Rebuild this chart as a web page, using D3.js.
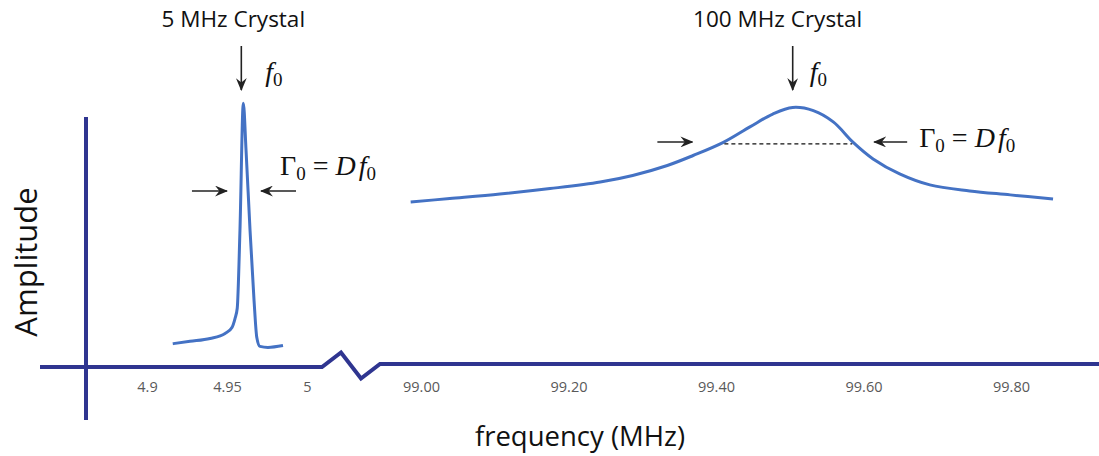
<!DOCTYPE html>
<html>
<head>
<meta charset="utf-8">
<script src="https://cdn.jsdelivr.net/npm/d3@7"></script>
<style>
  body { margin: 0; background: #fff; }
  svg { display: block; }
</style>
</head>
<body>
<div id="chart"></div>
<script>
// values (amplitude in arbitrary units, 0 = axis)
var leftFreq = [4.9161, 4.9269, 4.9394, 4.9488, 4.9531, 4.9550, 4.9564, 4.9581, 4.9602, 4.9619, 4.9644, 4.9669, 4.9686, 4.9706, 4.9756, 4.9850];
var leftAmp  = [0.083, 0.092, 0.103, 0.122, 0.145, 0.179, 0.218, 0.515, 0.999, 0.82, 0.515, 0.248, 0.108, 0.073, 0.069, 0.076];

var rightFreq = [98.986, 99.039, 99.107, 99.175, 99.243, 99.287, 99.334, 99.369, 99.410, 99.446, 99.477, 99.504, 99.532, 99.559, 99.586, 99.613, 99.649, 99.690, 99.744, 99.799, 99.857];
var rightAmp  = [0.623, 0.636, 0.653, 0.674, 0.699, 0.724, 0.762, 0.800, 0.850, 0.909, 0.958, 0.983, 0.971, 0.928, 0.850, 0.787, 0.730, 0.688, 0.665, 0.650, 0.634];

var leftTicks = [4.9, 4.95, 5];
var rightTicks = [99.00, 99.20, 99.40, 99.60, 99.80];

var titles = ["5 MHz Crystal", "100 MHz Crystal"];
var f0Left = 4.9602, f0Right = 99.504;
var widthLeft = [4.9581, 4.9644];     // half-max points, 5 MHz
var widthRight = [99.410, 99.586];    // half-max points, 100 MHz
var halfAmpRight = 0.844;

var W = 1099, H = 456;
var axisColor = "#2f3590", lineColor = "#4472c4";

var svg = d3.select("#chart").append("svg")
  .attr("width", W)
  .attr("height", H);

var xLeft = d3.scaleLinear().domain([4.9, 5]).range([147, 307]);
var xRight = d3.scaleLinear().domain([99, 99.8]).range([421, 1011]);
var y = d3.scaleLinear().domain([0, 1]).range([365.5, 103]);

var defs = svg.append("defs");
defs.append("marker")
  .attr("id", "head")
  .attr("viewBox", "0 0 12 10")
  .attr("refX", 11).attr("refY", 5)
  .attr("markerWidth", 13).attr("markerHeight", 11)
  .attr("markerUnits", "userSpaceOnUse")
  .attr("orient", "auto")
  .append("path")
  .attr("d", "M0,0 L12,5 L0,10 L4,5 Z")
  .attr("fill", "#222");

// axes lines with break
var base = y(0);
var yAxisX = xLeft.range()[0] - 61;
svg.append("line")
  .attr("x1", yAxisX).attr("x2", yAxisX)
  .attr("y1", 117).attr("y2", 420)
  .attr("stroke", axisColor).attr("stroke-width", 4);

var bx = xLeft.range()[1] + 15;
var breakPath = d3.path();
breakPath.moveTo(40, base + 1.5);
breakPath.lineTo(bx, base + 1.5);
breakPath.lineTo(bx + 19, base - 13);
breakPath.lineTo(bx + 39, base + 13);
breakPath.lineTo(bx + 58, base - 1.5);
breakPath.lineTo(W, base - 1.5);
svg.append("path")
  .attr("d", breakPath.toString())
  .attr("fill", "none")
  .attr("stroke", axisColor)
  .attr("stroke-width", 4)
  .attr("stroke-linejoin", "miter");

// tick labels
function tickAxis(scale, ticks, fmt) {
  var g = svg.append("g")
    .attr("transform", "translate(0," + base + ")")
    .call(d3.axisBottom(scale).tickValues(ticks).tickFormat(fmt).tickSize(0).tickPadding(16));
  g.select(".domain").remove();
  g.selectAll("text")
    .attr("fill", "#595959")
    .style("font-family", "'Open Sans', sans-serif")
    .style("font-size", "14.5px");
}
tickAxis(xLeft, leftTicks, d3.format(""));
tickAxis(xRight, rightTicks, d3.format(".2f"));

// curves
var lineLeft = d3.line()
  .x(function(d, i) { return xLeft(leftFreq[i]); })
  .y(function(d, i) { return y(leftAmp[i]); })
  .curve(d3.curveMonotoneX);
var lineRight = d3.line()
  .x(function(d, i) { return xRight(rightFreq[i]); })
  .y(function(d, i) { return y(rightAmp[i]); })
  .curve(d3.curveCatmullRom.alpha(0.5));

svg.append("path")
  .attr("d", lineLeft(leftFreq))
  .attr("fill", "none").attr("stroke", lineColor).attr("stroke-width", 3)
  .attr("stroke-linejoin", "round");
svg.append("path")
  .attr("d", lineRight(rightFreq))
  .attr("fill", "none").attr("stroke", lineColor).attr("stroke-width", 3)
  .attr("stroke-linejoin", "round");

// titles
var tFont = "'Open Sans', sans-serif";
svg.append("text").attr("x", xLeft(f0Left) - 10).attr("y", 27)
  .attr("text-anchor", "middle").style("font-family", tFont).style("font-size", "22.5px")
  .attr("fill", "#111").text(titles[0]);
svg.append("text").attr("x", xRight(f0Right) - 15).attr("y", 27)
  .attr("text-anchor", "middle").style("font-family", tFont).style("font-size", "22.5px")
  .attr("fill", "#111").text(titles[1]);

function arrow(x1, y1, x2, y2) {
  svg.append("line")
    .attr("x1", x1).attr("y1", y1).attr("x2", x2).attr("y2", y2)
    .attr("stroke", "#222").attr("stroke-width", 1.6)
    .attr("marker-end", "url(#head)");
}

var mFont = "'Liberation Serif', 'DejaVu Serif', serif";
function f0Label(x, yy) {
  var t = svg.append("text").attr("x", x).attr("y", yy)
    .style("font-family", mFont).style("font-size", "28px").attr("fill", "#111");
  t.append("tspan").style("font-style", "italic").text("f");
  t.append("tspan").attr("dy", 5).style("font-size", "19px").text("0");
}
function gammaLabel(x, yy) {
  var t = svg.append("text").attr("x", x).attr("y", yy)
    .style("font-family", mFont).style("font-size", "28px").attr("fill", "#111");
  t.append("tspan").text("Γ");
  t.append("tspan").attr("dy", 5).style("font-size", "19px").text("0");
  t.append("tspan").attr("dy", -5).text(" = ");
  t.append("tspan").style("font-style", "italic").text("D");
  t.append("tspan").style("font-style", "italic").attr("dx", 3).text("f");
  t.append("tspan").attr("dy", 5).style("font-size", "19px").text("0");
}

// 5 MHz annotations
arrow(xLeft(f0Left) - 2, 46, xLeft(f0Left) - 2, 90);
f0Label(xLeft(f0Left) + 22, 81);
var yl = 191;
arrow(xLeft(widthLeft[0]) - 48, yl, xLeft(widthLeft[0]) - 13, yl);
arrow(xLeft(widthLeft[1]) + 46, yl, xLeft(widthLeft[1]) + 11, yl);
gammaLabel(xLeft(widthLeft[1]) + 30, 175);

// 100 MHz annotations
arrow(xRight(f0Right), 46, xRight(f0Right), 90);
f0Label(xRight(f0Right) + 17, 81);
var yr = y(halfAmpRight);
arrow(xRight(widthRight[0]) - 66, yr - 2, xRight(widthRight[0]) - 31, yr - 2);
arrow(xRight(widthRight[1]) + 54, yr - 2, xRight(widthRight[1]) + 21, yr - 2);
svg.append("line")
  .attr("x1", xRight(widthRight[0]) + 1).attr("x2", xRight(widthRight[1]) - 1)
  .attr("y1", yr).attr("y2", yr)
  .attr("stroke", "#111").attr("stroke-width", 1.3).attr("stroke-dasharray", "4,3");
gammaLabel(xRight(widthRight[1]) + 66, yr + 3);

// axis titles
svg.append("text")
  .attr("transform", "translate(37," + 262 + ") rotate(-90)")
  .attr("text-anchor", "middle")
  .style("font-family", tFont).style("font-size", "31px").attr("fill", "#111")
  .text("Amplitude");
svg.append("text")
  .attr("x", 580).attr("y", 446)
  .attr("text-anchor", "middle")
  .style("font-family", tFont).style("font-size", "27.5px").attr("fill", "#111")
  .text("frequency (MHz)");
</script>
</body>
</html>
